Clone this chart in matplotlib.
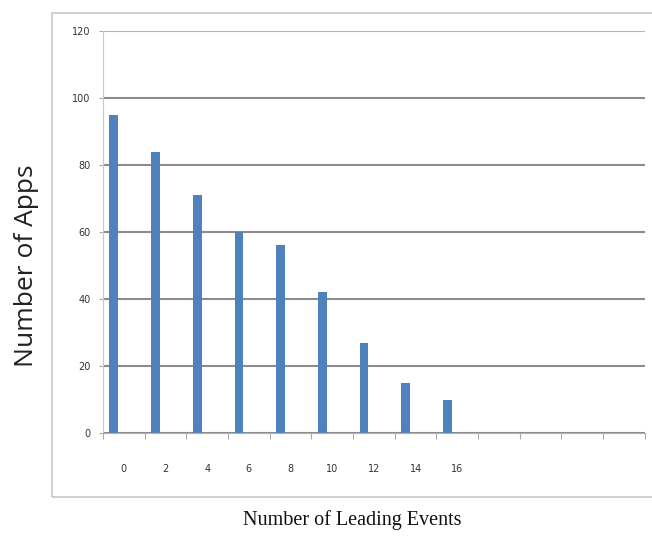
import numpy as np
import matplotlib.pyplot as plt
from matplotlib.patches import Rectangle

# leading events (x categories) and number of apps
events = [0, 2, 4, 6, 8, 10, 12, 14, 16]
apps = [95, 84, 71, 60, 56, 42, 27, 15, 10]
n_slots = 13  # the axis runs on past 16 with empty categories
y_ticks = [0, 20, 40, 60, 80, 100, 120]

fig = plt.figure(figsize=(6.52, 5.36), dpi=100)

# light outer frame around the chart, like the exported spreadsheet chart
fig.patches.append(Rectangle((0.08, 0.073), 0.93, 0.903, transform=fig.transFigure,
                             fill=False, edgecolor='#c8c8c8', linewidth=1.2))

ax = fig.add_axes([0.158, 0.192, 0.831, 0.75])

idx = np.arange(len(events))
ax.bar(idx - 0.24, apps, width=0.21, color='#4f81bd', zorder=3)

ax.set_xlim(-0.5, n_slots - 0.5)
ax.set_ylim(0, 120)

# tick marks at slot boundaries, labels at slot centres
ax.set_xticks(np.arange(n_slots + 1) - 0.5)
ax.set_xticklabels([])
ax.set_xticks(idx, minor=True)
ax.set_xticklabels([str(e) for e in events], minor=True, fontsize=7, color='#333333')
ax.tick_params(axis='x', which='major', length=4, width=0.8, color='#aaaaaa', direction='out')
ax.tick_params(axis='x', which='minor', length=0, pad=22)

ax.set_yticks(y_ticks)
ax.set_yticklabels([str(v) for v in y_ticks], fontsize=7, color='#333333')
ax.tick_params(axis='y', length=3, width=0.8, color='#aaaaaa', pad=6)

ax.yaxis.grid(True, color='#8c8c8c', linewidth=1.5, zorder=0)
ax.get_ygridlines()[-1].set_color('#b4b4b4')
ax.set_axisbelow(True)
for s in ['top', 'right']:
    ax.spines[s].set_visible(False)
ax.spines['left'].set_color('#c8c8c8')
ax.spines['bottom'].set_color('#b0b0b0')
ax.spines['bottom'].set_zorder(4)

fig.text(0.04, 0.505, 'Number of Apps', rotation=90, ha='center', va='center',
         fontsize=19, family='Open Sans', color='#222222')
fig.text(0.54, 0.03, 'Number of Leading Events', ha='center', va='center',
         fontsize=14.5, family='Liberation Serif', color='#111111')

fig.savefig('out.png', dpi=100)
